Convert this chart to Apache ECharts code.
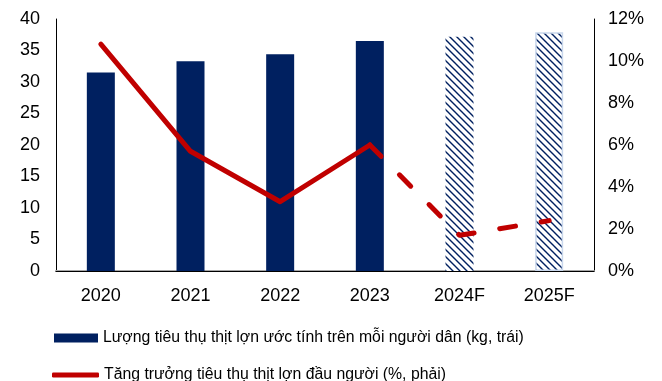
<!DOCTYPE html>
<html>
<head>
<meta charset="utf-8">
<script src="https://cdn.jsdelivr.net/npm/echarts@6/dist/echarts.min.js"></script>
<style>
  html, body { margin: 0; padding: 0; background: #fff; }
  #chart { width: 662px; height: 381px; }
</style>
</head>
<body>
<div id="chart"></div>
<script>
// Years on the category axis (F = forecast)
const years = ['2020', '2021', '2022', '2023', '2024F', '2025F'];
// Estimated pork consumption per person, kg (left axis)
const perCapitaKg = [31.5, 33.3, 34.4, 36.5, 37.2, 37.9];
// Growth of per-capita pork consumption, % (right axis)
const growthActual = [10.8, 5.7, 3.3, 6.0, null, null];
const growthForecast = [null, null, null, 6.0, 1.7, 2.4];
// Which years are forecasts
const isForecast = [false, false, false, false, true, true];

const leftTicks = { min: 0, max: 40, interval: 5 };
const rightTicks = { min: 0, max: 12, interval: 2 };

const barName = 'Lượng tiêu thụ thịt lợn ước tính trên mỗi người dân (kg, trái)';
const lineName = 'Tăng trưởng tiêu thụ thịt lợn đầu người (%, phải)';

const NAVY = '#002060';
const RED = '#C00000';
const FONT = '"Liberation Sans", Arial, sans-serif';
const TICK_SIZE = 18;
const LEGEND_SIZE = 15.8;

// Diagonal hatch used for forecast bars
function hatchPattern() {
  const s = 7;
  const c = document.createElement('canvas');
  c.width = s; c.height = s;
  const ctx = c.getContext('2d');
  ctx.fillStyle = '#ffffff';
  ctx.fillRect(0, 0, s, s);
  ctx.strokeStyle = NAVY;
  ctx.lineWidth = 1.4;
  ctx.beginPath();
  ctx.moveTo(-1, -1); ctx.lineTo(s + 1, s + 1);
  ctx.moveTo(-1, s - 1); ctx.lineTo(1, s + 1);
  ctx.moveTo(s - 1, -1); ctx.lineTo(s + 1, 1);
  ctx.stroke();
  return c;
}
const hatch = { image: hatchPattern(), repeat: 'repeat' };

const barData = perCapitaKg.map((v, i) => isForecast[i]
  ? { value: v, itemStyle: { color: hatch, borderColor: i === 5 ? '#c9d7ec' : 'rgba(0,0,0,0)', borderWidth: i === 5 ? 1.5 : 0 } }
  : v);

const chart = echarts.init(document.getElementById('chart'), null, { renderer: 'canvas' });

chart.setOption({
  animation: false,
  textStyle: { fontFamily: FONT },
  grid: { left: 56, right: 68, top: 19, bottom: 110, containLabel: false },
  legend: [
    {
      data: [{ name: barName, icon: 'rect' }],
      orient: 'horizontal', left: 54, top: 329, padding: 0,
      itemWidth: 44, itemHeight: 9,
      textStyle: { fontFamily: FONT, fontSize: LEGEND_SIZE, color: '#000', lineHeight: 18 },
      selectedMode: false
    },
    {
      data: [{ name: lineName, icon: 'roundRect' }],
      orient: 'horizontal', left: 52, top: 366, padding: 0,
      itemWidth: 47, itemHeight: 5,
      textStyle: { fontFamily: FONT, fontSize: LEGEND_SIZE, color: '#000', lineHeight: 18 },
      selectedMode: false
    }
  ],
  xAxis: [
    {
      type: 'category', data: years, position: 'bottom',
      axisLine: { show: true, lineStyle: { color: '#a6a6a6', width: 2 } },
      axisTick: { show: false },
      axisLabel: { fontFamily: FONT, fontSize: TICK_SIZE, color: '#000', margin: 16 },
      splitLine: { show: false }
    },
    {
      type: 'category', data: years, position: 'top',
      axisLine: { show: true, lineStyle: { color: '#000', width: 1 } },
      axisTick: { show: false }, axisLabel: { show: false }, splitLine: { show: false }
    }
  ],
  yAxis: [
    {
      type: 'value', position: 'left', ...leftTicks,
      axisLine: { show: true, lineStyle: { color: '#000', width: 1 } },
      axisTick: { show: false },
      splitLine: { show: false },
      axisLabel: { fontFamily: FONT, fontSize: TICK_SIZE, color: '#000', margin: 16 }
    },
    {
      type: 'value', position: 'right', ...rightTicks,
      axisLine: { show: true, lineStyle: { color: '#000', width: 1 } },
      axisTick: { show: false },
      splitLine: { show: false },
      axisLabel: { fontFamily: FONT, fontSize: TICK_SIZE, color: '#000', margin: 14, formatter: '{value}%' }
    }
  ],
  series: [
    {
      name: barName, type: 'bar', xAxisIndex: 0, yAxisIndex: 0,
      data: barData, barWidth: 28,
      itemStyle: { color: NAVY },
      z: 2
    },
    {
      name: lineName, type: 'line', xAxisIndex: 0, yAxisIndex: 1,
      data: growthActual, symbol: 'none', color: RED,
      lineStyle: { color: RED, width: 5, cap: 'round', join: 'round' },
      z: 3
    },
    {
      name: lineName, type: 'line', xAxisIndex: 0, yAxisIndex: 1,
      data: growthForecast, symbol: 'none', color: RED,
      lineStyle: { color: RED, width: 5, type: [16, 26], cap: 'round', join: 'round' },
      z: 3
    }
  ]
});
</script>
</body>
</html>
